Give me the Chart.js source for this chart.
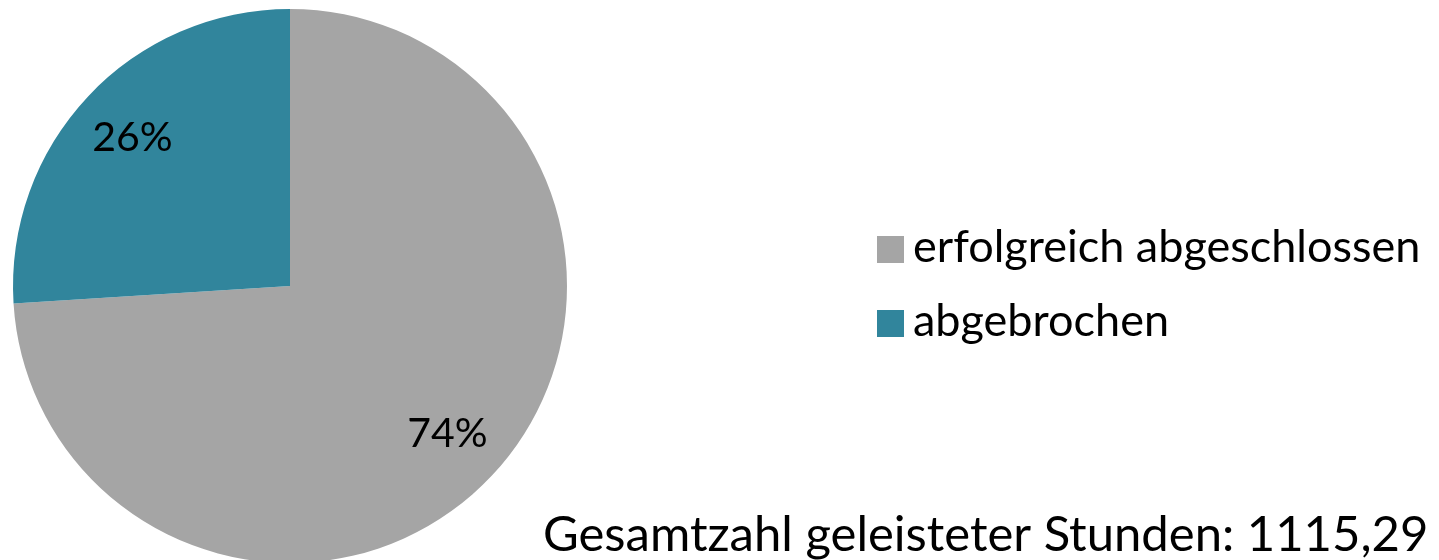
<!DOCTYPE html>
<html>
<head>
<meta charset="utf-8">
<script src="https://cdn.jsdelivr.net/npm/chart.js@4/dist/chart.umd.min.js"></script>
<style>
  html, body { margin: 0; padding: 0; background: #fff; overflow: hidden; }
  #wrap { position: absolute; left: 0; top: 0; width: 1439px; height: 575px; }
</style>
</head>
<body>
<div id="wrap"><canvas id="c"></canvas></div>
<script>
// pie data
var categories = ['erfolgreich abgeschlossen', 'abgebrochen'];
var shares = [74, 26];
var sliceColors = ['#a5a5a5', '#31859c'];
var totalNote = 'Gesamtzahl geleisteter Stunden: 1115,29';

var font = 'Lato, "Open Sans", sans-serif';

// percent labels inside slices, legend on the right, note at the bottom
var extras = {
  id: 'extras',
  afterDraw: function (chart) {
    var ctx = chart.ctx;
    var meta = chart.getDatasetMeta(0);
    var total = shares.reduce(function (a, b) { return a + b; }, 0);
    ctx.save();
    ctx.fillStyle = '#000';
    ctx.font = '41px ' + font;
    ctx.textAlign = 'center';
    ctx.textBaseline = 'middle';
    meta.data.forEach(function (arc, i) {
      var p = arc.getProps(['x', 'y', 'startAngle', 'endAngle', 'outerRadius'], true);
      var mid = (p.startAngle + p.endAngle) / 2;
      var r = p.outerRadius * 0.78;
      var txt = Math.round(shares[i] / total * 100) + '%';
      ctx.fillText(txt, p.x + Math.cos(mid) * r, p.y + Math.sin(mid) * r);
    });

    ctx.textAlign = 'left';
    ctx.textBaseline = 'alphabetic';
    ctx.font = '45px ' + font;
    categories.forEach(function (name, i) {
      var y = 236 + i * 74;
      ctx.fillStyle = sliceColors[i];
      ctx.fillRect(877, y, 27, 27);
      ctx.fillStyle = '#000';
      ctx.fillText(name, 913, y + 26);
    });

    ctx.font = '49px ' + font;
    ctx.fillText(totalNote, 543, 551);
    ctx.restore();
  }
};

new Chart(document.getElementById('c'), {
  type: 'pie',
  data: {
    labels: categories,
    datasets: [{
      data: shares,
      backgroundColor: sliceColors,
      borderWidth: 0
    }]
  },
  options: {
    responsive: true,
    maintainAspectRatio: false,
    animation: false,
    layout: { padding: { left: 12, top: 9, right: 871, bottom: 12 } },
    plugins: {
      legend: { display: false },
      tooltip: { enabled: false }
    }
  },
  plugins: [extras]
});
</script>
</body>
</html>
